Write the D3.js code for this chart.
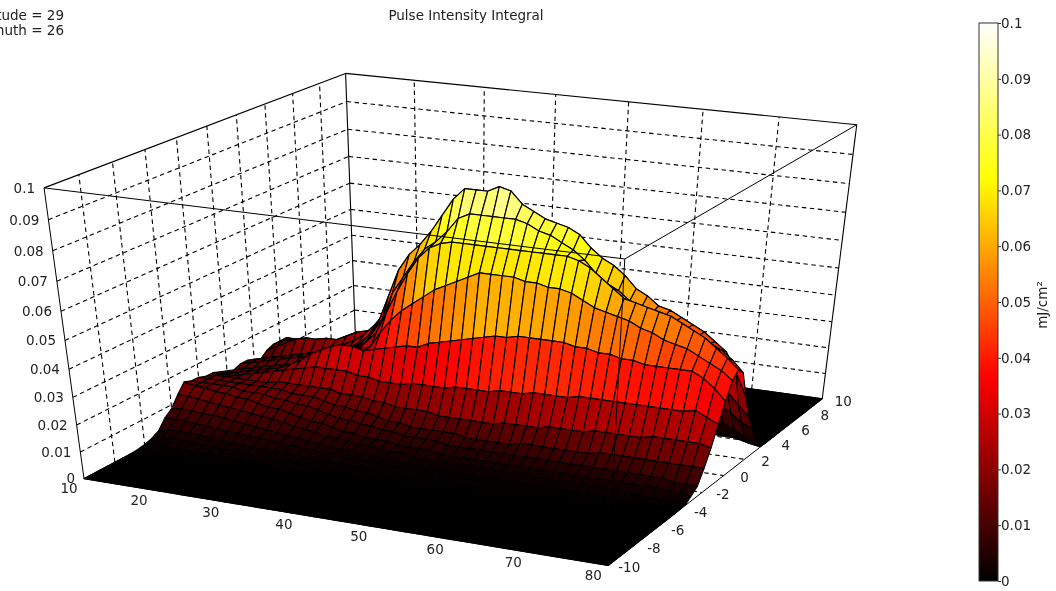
<!DOCTYPE html>
<html><head><meta charset="utf-8">
<script src="https://cdn.jsdelivr.net/npm/d3@7/dist/d3.min.js"></script>
<style>html,body{margin:0;padding:0;background:#fff;overflow:hidden}svg{filter:blur(0.35px)}text{font-family:"DejaVu Sans",sans-serif;font-size:13.5px;fill:#222}</style>
</head><body><svg id="c" width="1056" height="591"></svg>
<script>
// ---- data: pulse intensity in 0.001 mJ/cm2, rows read along the surface (missing columns = floor)
const xTicks=[10,20,30,40,50,60,70,80];
const yTicks=[-10,-8,-6,-4,-2,0,2,4,6,8,10];
const zTicks=[0,0.01,0.02,0.03,0.04,0.05,0.06,0.07,0.08,0.09,0.1];
const xGrid=d3.range(47).map(i=>10+i*70/46);
const yGrid=d3.range(41).map(j=>-10+j*0.5);
const r_m65=[.2,.4,.4,.4,.3,.3,.3,.2,.2,.2,.2,.1,.1,.1,.1];
const r_m60=[.7,1,1,1,.9,.8,.8,.7,.6,.6,.5,.5,.4,.4,.3,.3,.3,.2,.2,.2,.1,.1,.1];
const r_m55=[1.5,2.2,2.7,2.5,2.3,2.1,1.9,1.7,1.5,1.4,1.2,1.1,1,.9,.8,.7,.6,.6,.5,.5,.4,.4,.3,.3,.3,.2,.2,.2,.2,.1];
const r_m50=[3,3.8,4,3.8,3.6,3.3,3,2.8,2.6,2.4,2.2,2,1.9,1.7,1.6,1.4,1.3,1.2,1.1,1,.9,.8,.7,.7,.6,.6,.5,.5,.4,.4,.4,.3,.3,.3,.2,.2,.2,.2,.1,.1,.1,.1];
const r_m45=[6.5,6.5,6.4,6,5.8,5.5,5,4.8,4.5,4.2,4,3.6,3.3,3,2.8,2.5,2.3,2.1,2,1.8,1.6,1.5,1.4,1.3,1.2,1.1,1,1,.9,.9,.8,.8,.7,.7,.6,.6,.5,.5,.4,.4,.3,.3,.2,.2,.1,.1,0];
const r_m40=[8.6,9,9,8.5,8.5,8,7.5,7,6.5,6,5.5,5,4.5,4,3.8,3.3,3,2.8,2.5,2.2,2,1.8,1.6,1.4,1.2,1.2,1.1,1,1,.9,.9,.8,.8,.8,.7,.7,.7,.6,.6,.5,.5,.4,.4,.3,.2,.1,.1];
const r_m35=[12.6,12.5,12,11.5,11,10.5,10,9.5,9,8.5,8,7,6.5,6,5,5,4.5,4,4,3,3,3,2.5,2.5,2.2,2,2,2,2,2,2,2,2,2,1.8,1.8,1.8,1.8,1.8,1.8,1.5,1.5,1.2,1,.8,.5,.3];
const r_m30=[16,15,15,14,14,13,13,12,11,11,10,9,8,8,7,6,6,5,5,5,4,4,4,4,3,3,3,3,3,3,3,3,3,3,3,3,3,3,3,3,3,3,3,3,2.5,2,2];
const r_m25=[15,15,15,15,15,14,14,14,13,13,12,12,11,10,9,9,8,8,7,7,6,6,6,6,5,5,5,5,5,5,5,5,5,5,5,5,5,5,5,5,5,5,5,5,4,4,4];
const r_m20=[15,15,15,15,15,15,15,15,15,14,14,14,13,12,12,11,11,10,9,9,8,8,8,8,8,7,7,7,7,7,8,8,8,8,8,8,8,9,9,9,9,9,9,9,9,9,9];
const r_m15=[14,15,15,15,15,15,15,16,16,16,16,16,16,15,15,15,14,14,13,13,13,13,12,12,12,12,12,12,13,13,13,13,14,14,14,14,15,15,15,15,15,16,16,16,16,16,15];
const r_m10=[14,14,14,15,16,17,18,19,20,21,22,22,22,22,21,21,20,20,20,21,21,21,21,22,22,22,22,23,23,23,24,24,24,24,25,25,25,25,25,25,25,25,25,25,26,24,22];
const r_m05=[13,13,14,15,16,17,18,20,22,25,27,29,30,30,29,30,31,32,33,33,35,36,37,38,39,40,41,41,42,42,42,42,42,41,41,40,40,39,39,38,38,38,38,38,36,33,29];
const r_p00=[12,12,13,14,15,16,17,18,20,22,24,26,27,28,29,35,40,44,47,50,53,55,57,59,61,61,61,61,60,60,59,59,58,56,54,53,52,51,49,48,46,45,44,42,40,38,35];
const r_p05=[11,12,13,14,15,16,17,18,19,20,21,23,26,29,33,41,49,56,62,66,68,69,69,69,69,69,69,69,69,69,69,69,68,66,63,60,57,56,55,54,53,51,49,47,44,41,37.5];
const r_p10=[12,13,14,15,16,17,18,18,19,20,22,24,27,31,37,47,53,59,64,67,71,76,78,78,78,78,78,77,75,74,72,70,67,63,60,58,55,53,52,51,50,48,46,44,42,39,35];
const r_p15=[12,13,14,15,15,16,17,18,19,20,22,25,28,34,44,54,60,64,69,75,81,85,85,85,87,86,82,80,78,77,76,74,70,67,65,62,58,56,53,52,50,48,46,43,40,33,25];
const r_p20=[11,12,13,14,15,16,17,18,20,22,24,27,31,36,46,53,59,64,67,69,71,72,73,74,74,73,71,69,67,65,62,59,56,53,51,48,46,44,42,39,36,33,30,27,24,20,16];
const r_p25=[10,11,12,13,14,15,16,18,19,20,21,23,26,30,36,42,47,51,54,56,57,58,58,58,57,55,53,50,48,46,44,41,38,36,33,29,28,27,26,25,24,22,19,17,15,12,10];
const r_p30=[12,14,16,18,19,19,20,20,22,24,25,26,27,28,30,32,33,35,36,36,36,36,36,36,35,33,32,30,29,27,26,24,23,21,20,18,17,16,15,14,12,11,10,9,7,5,3];
const r_p35=[13,15,16,16,17,18,18,19,19,20,21,21,22,22,23,23,23,24,24,24,24,24,23,22,21,20,19,18,17,15,14,13,12,11,10,9,8,8,7,6,5,4,4,3,2,1,.3];
const r_p40=[13,14,14,15,15,15,15,16,16,16,16,16,16,16,16,16,15,15,15,15,14,14,13,12,11,10,9,8,7,6,6,5,4,4,3,3,2,2,2,1,1,1,.5,.5,.3,.2];
const r_p45=[13,13,13,13,13,13,13,13,13,12,12,12,12,11,11,10,10,9,9,8,8,7,6,5,4,4,3,3,2,2,1,1,.5,.3,.2,.1];
const r_p50=[11,11,11,11,10,10,10,10,9,9,9,8,8,7,7,6,6,5,5,4,3,3,2,2,1,1,.5,.3,.2,.1];
const r_p55=[9.5,9,9,8,8,7,7,6,6,5,5,4,4,3,3,2,2,1,1,.5,.3,.2,.1];
const r_p60=[5,5,4.5,4,4,3.5,3,3,2.5,2,2,1.5,1,1,.5,.5,.3,.2,.1];
const r_p65=[1.5,1.5,1.2,1,1,.8,.6,.5,.4,.3,.2,.1,.1];
const rowsByY=new Map([[-6.5,r_m65],[-6,r_m60],[-5.5,r_m55],[-5,r_m50],[-4.5,r_m45],[-4,r_m40],[-3.5,r_m35],[-3,r_m30],[-2.5,r_m25],[-2,r_m20],[-1.5,r_m15],[-1,r_m10],[-.5,r_m05],[0,r_p00],[.5,r_p05],[1,r_p10],[1.5,r_p15],[2,r_p20],[2.5,r_p25],[3,r_p30],[3.5,r_p35],[4,r_p40],[4.5,r_p45],[5,r_p50],[5.5,r_p55],[6,r_p60],[6.5,r_p65]]);
const zAt=(i,j)=>{const r=rowsByY.get(yGrid[j]);return r&&r[i]!==undefined?r[i]/1000:0;};

// ---- scales
const sx=d3.scaleLinear().domain([10,80]).range([0,1]);
const sy=d3.scaleLinear().domain([-10,10]).range([0,1]);
const sz=d3.scaleLinear().domain([0,0.1]).range([0,1]);
const hot=d3.scaleLinear().domain([0,0.0365,0.072,0.1]).range(["#000000","#ff0000","#ffff00","#ffffff"]).clamp(true);

// ---- camera: projective map fitted to the eight corners of the plotting box
const boxCorners=[[0,0,0,83,478],[1,0,0,610,566],[1,1,0,821,398],[0,1,0,356,335],[0,0,1,45,188],[1,0,1,623,259],[1,1,1,858,125],[0,1,1,345,73]];
function fitCamera(pts){
  const A=[],b=[];
  pts.forEach(([x,y,z,u,v])=>{
    A.push([x,y,z,1,0,0,0,0,-u*x,-u*y,-u*z]);b.push(u);
    A.push([0,0,0,0,x,y,z,1,-v*x,-v*y,-v*z]);b.push(v);
  });
  const n=11,M=d3.range(n).map(r=>d3.range(n+1).map(c=>{
    let s=0;A.forEach((row,k)=>{s+=row[r]*(c<n?row[c]:b[k]);});return s;}));
  for(let c=0;c<n;c++){
    let p=c;for(let r=c+1;r<n;r++)if(Math.abs(M[r][c])>Math.abs(M[p][c]))p=r;
    [M[c],M[p]]=[M[p],M[c]];
    for(let r=0;r<n;r++){if(r===c)continue;const f=M[r][c]/M[c][c];for(let k=c;k<=n;k++)M[r][k]-=f*M[c][k];}
  }
  return M.map((row,r)=>row[n]/row[r]);
}
const P=fitCamera(boxCorners);
const project=(x,y,z)=>{
  const X=sx(x),Y=sy(y),Z=sz(z),w=P[8]*X+P[9]*Y+P[10]*Z+1;
  return [(P[0]*X+P[1]*Y+P[2]*Z+P[3])/w,(P[4]*X+P[5]*Y+P[6]*Z+P[7])/w];
};

const svg=d3.select("#c");
const seg=(g,a,b,dash,w)=>g.append("line").attr("x1",a[0]).attr("y1",a[1]).attr("x2",b[0]).attr("y2",b[1])
  .attr("stroke","#000").attr("stroke-width",w||1.1).attr("stroke-dasharray",dash||null);
const DASH="4.5,3.5";

// ---- walls and floor
const back=svg.append("g");
const xIn=xTicks.slice(1,-1),yIn=yTicks.slice(1,-1),zIn=zTicks.slice(1,-1);
xIn.forEach(x=>{seg(back,project(x,10,0),project(x,10,.1),DASH);seg(back,project(x,-10,0),project(x,10,0),DASH);});
yIn.forEach(y=>{seg(back,project(10,y,0),project(10,y,.1),DASH);seg(back,project(10,y,0),project(80,y,0),DASH);});
zIn.forEach(z=>{seg(back,project(10,-10,z),project(10,10,z),DASH);seg(back,project(10,10,z),project(80,10,z),DASH);});
[[[10,-10,.1],[10,10,.1]],[[10,10,.1],[80,10,.1]],[[10,10,0],[10,10,.1]],[[80,10,0],[80,10,.1]],[[10,10,0],[80,10,0]],[[10,-10,0],[10,10,0]]]
 .forEach(([a,b])=>seg(back,project(...a),project(...b)));

// ---- surface, painted far to near
const cells=[];
for(let j=yGrid.length-2;j>=0;j--)for(let i=0;i<xGrid.length-1;i++)cells.push({i,j});
const line=d3.line();
svg.append("g").selectAll("path").data(cells).join("path")
 .attr("d",({i,j})=>line([[i,j],[i+1,j],[i+1,j+1],[i,j+1]].map(([a,b])=>project(xGrid[a],yGrid[b],zAt(a,b))))+"Z")
 .attr("fill",({i,j})=>hot(zAt(i,j+1)))
 .attr("stroke","#000").attr("stroke-width",1.15).attr("stroke-linejoin","round");

// ---- front edges of the box over the surface
const front=svg.append("g");
[[[10,-10,0],[10,-10,.1]],[[10,-10,.1],[80,-10,.1]],[[80,-10,.1],[80,10,.1]],[[80,-10,0],[80,-10,.1]],[[10,-10,0],[80,-10,0]],[[80,-10,0],[80,10,0]]]
 .forEach(([a,b])=>seg(front,project(...a),project(...b),null,1));

// ---- tick labels
const lab=svg.append("g");
const put=(p,dx,dy,t,anchor)=>lab.append("text").attr("x",p[0]+dx).attr("y",p[1]+dy).attr("dy","0.36em").attr("text-anchor",anchor).text(t);
zTicks.forEach(z=>put(project(10,-10,z),-9,0,String(z),"end"));
xTicks.forEach(x=>put(project(x,-10,0),-15,10,String(x),"middle"));
yTicks.forEach(y=>put(project(80,y,0),21,2,String(y),"middle"));

// ---- title and view text
svg.append("text").attr("x",466).attr("y",15).attr("dy","0.36em").attr("text-anchor","middle").text("Pulse Intensity Integral");
svg.append("text").attr("x",64).attr("y",15).attr("dy","0.36em").attr("text-anchor","end").text("Altitude = 29");
svg.append("text").attr("x",64).attr("y",30).attr("dy","0.36em").attr("text-anchor","end").text("Azimuth = 26");

// ---- colour bar
const barY=d3.scaleLinear().domain([0,0.1]).range([581,23]);
const grad=svg.append("defs").append("linearGradient").attr("id","hot").attr("x1",0).attr("y1",1).attr("x2",0).attr("y2",0);
hot.domain().forEach(v=>grad.append("stop").attr("offset",v/0.1).attr("stop-color",hot(v)));
svg.append("rect").attr("x",979).attr("y",23).attr("width",19).attr("height",558).attr("fill","url(#hot)").attr("stroke","#333");
const barAxis=svg.append("g").attr("transform","translate(998,0)")
 .call(d3.axisRight(barY).tickValues(zTicks).tickSize(3).tickPadding(0).tickFormat(d=>String(d)));
barAxis.select(".domain").remove();
barAxis.selectAll("line").attr("stroke","#333");
barAxis.selectAll("text").attr("fill","#222").attr("font-size",null).attr("font-family",null);
svg.append("text").attr("transform","translate(1047,305) rotate(-90)").attr("text-anchor","middle").text("mJ/cm²");
</script></body></html>
